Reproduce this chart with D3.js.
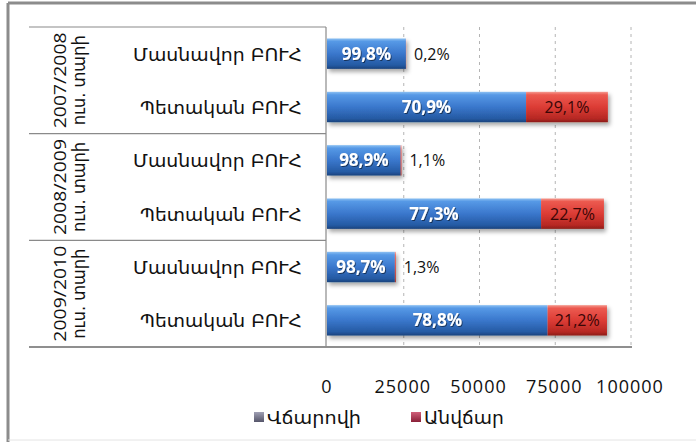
<!DOCTYPE html>
<html>
<head>
<meta charset="utf-8">
<script src="https://cdn.jsdelivr.net/npm/d3@7"></script>
<style>
  html, body { margin: 0; padding: 0; background: #fff; }
  svg { display: block; }
</style>
</head>
<body>
<svg id="chart" width="696" height="442"></svg>
<script>
// ուսումնական տարիներ և ԲՈՒՀ-երի տեսակներ
const years = [['2007/2008', 'ուս. տարի'], ['2008/2009', 'ուս. տարի'], ['2009/2010', 'ուս. տարի']];
const types = ['Մասնավոր ԲՈՒՀ', 'Պետական ԲՈՒՀ'];

// վճարովի / անվճար ուսանողներ (գնահատված պատկերից)
const paid = [26050, 65700, 24300, 70650, 22400, 72800];
const free = [50, 27000, 270, 20750, 300, 19600];
const paidPct = ['99,8%', '70,9%', '98,9%', '77,3%', '98,7%', '78,8%'];
const freePct = ['0,2%', '29,1%', '1,1%', '22,7%', '1,3%', '21,2%'];

const ticks = [0, 25000, 50000, 75000, 100000];
const legendNames = ['Վճարովի', 'Անվճար'];

const svg = d3.select('#chart');
const ARM = '"DejaVu Sans", sans-serif';
const NUM = '"Open Sans", "Liberation Sans", sans-serif';

const rows = d3.range(paid.length);
const plotTop = 27, plotBottom = 347;

const x = d3.scaleLinear().domain([0, 100000]).range([327, 630]);
const y = d3.scaleBand().domain(rows).range([plotTop, plotBottom])
  .paddingInner(0.43).paddingOuter(0.215);

// գրադիենտներ և ստվեր
const defs = svg.append('defs');
function grad(id, stops) {
  const g = defs.append('linearGradient').attr('id', id)
    .attr('x1', 0).attr('y1', 0).attr('x2', 0).attr('y2', 1);
  stops.forEach(s => g.append('stop').attr('offset', s[0]).attr('stop-color', s[1]));
}
grad('gBlue', [[0, '#8cc0f2'], [0.1, '#5699e6'], [0.5, '#3a77cc'], [0.88, '#255aa3'], [1, '#1a427c']]);
grad('gRed', [[0, '#f49a90'], [0.1, '#ec5a50'], [0.5, '#dc3c35'], [0.88, '#b62823'], [1, '#8c1c19']]);
grad('gLegBlue', [[0, '#a0a0b4'], [1, '#55556a']]);
grad('gLegRed', [[0, '#d0607a'], [1, '#8a2038']]);
const f = defs.append('filter').attr('id', 'shadow')
  .attr('x', '-5%').attr('y', '-20%').attr('width', '115%').attr('height', '160%');
f.append('feDropShadow').attr('dx', 2).attr('dy', 3).attr('stdDeviation', 2)
  .attr('flood-color', '#000').attr('flood-opacity', 0.35);
const tf = defs.append('filter').attr('id', 'tshadow');
tf.append('feDropShadow').attr('dx', 1).attr('dy', 1).attr('stdDeviation', 0.6)
  .attr('flood-color', '#000').attr('flood-opacity', 0.5);

// արտաքին շրջանակ
svg.append('line').attr('x1', 8).attr('x2', 696).attr('y1', 3).attr('y2', 3)
  .attr('stroke', '#8c8c8c').attr('stroke-width', 3);
svg.append('line').attr('x1', 8).attr('x2', 8).attr('y1', 3).attr('y2', 442)
  .attr('stroke', '#8c8c8c').attr('stroke-width', 3);
svg.append('line').attr('x1', 8).attr('x2', 696).attr('y1', 440).attr('y2', 440)
  .attr('stroke', '#e4e4e4').attr('stroke-width', 1);

// ցանցի գծեր
svg.append('g').selectAll('line').data(ticks.filter(t => t > 0)).join('line')
  .attr('x1', d => x(d) + 1).attr('x2', d => x(d) + 1)
  .attr('y1', plotTop).attr('y2', plotBottom)
  .attr('stroke', '#b4b4b4').attr('stroke-width', 1).attr('stroke-dasharray', '3,4');

// կատեգորիաների աղյուսակ
const grid = svg.append('g').attr('stroke', '#8a8a8a').attr('stroke-width', 1.2);
[0, 2, 4].forEach(i => {
  const yy = y(i) - y.step() * y.paddingOuter();
  grid.append('line').attr('x1', 29).attr('x2', 326).attr('y1', yy).attr('y2', yy);
});
grid.append('line').attr('x1', 29).attr('x2', 632).attr('y1', plotBottom).attr('y2', plotBottom)
  .attr('stroke-width', 2).attr('stroke', '#8f8f8f');
grid.append('line').attr('x1', 326).attr('x2', 326).attr('y1', plotTop).attr('y2', plotBottom);

// տարիների պիտակներ (ուղղահայաց)
years.forEach((yr, i) => {
  const cy = (y(i * 2) + y(i * 2 + 1) + y.bandwidth()) / 2;
  yr.forEach((line, j) => {
    svg.append('text')
      .attr('transform', `translate(${66 + j * 19},${cy}) rotate(-90)`)
      .attr('text-anchor', 'middle')
      .attr('font-family', j === 0 ? NUM : ARM)
      .attr('font-size', 17)
      .attr('fill', '#111')
      .attr('textLength', j === 0 ? 96 : 90)
      .attr('lengthAdjust', 'spacingAndGlyphs')
      .text(line);
  });
});

// ԲՈՒՀ-երի տեսակներ
svg.append('g').selectAll('text').data(rows).join('text')
  .attr('x', 302).attr('y', d => y(d) + y.bandwidth() / 2 + 7)
  .attr('text-anchor', 'end')
  .attr('font-family', ARM).attr('font-size', 17).attr('fill', '#111')
  .attr('textLength', d => d % 2 === 0 ? 169 : 162)
  .attr('lengthAdjust', 'spacingAndGlyphs')
  .text(d => types[d % 2]);

// սյուներ
const bars = svg.append('g').attr('filter', 'url(#shadow)');
bars.selectAll('rect.paid').data(rows).join('rect').attr('class', 'paid')
  .attr('x', x(0)).attr('y', d => y(d))
  .attr('width', d => x(paid[d]) - x(0)).attr('height', y.bandwidth())
  .attr('fill', 'url(#gBlue)');
bars.selectAll('rect.free').data(rows).join('rect').attr('class', 'free')
  .attr('x', d => x(paid[d])).attr('y', d => y(d))
  .attr('width', d => x(paid[d] + free[d]) - x(paid[d])).attr('height', y.bandwidth())
  .attr('fill', 'url(#gRed)');

// տոկոսներ
svg.append('g').attr('filter', 'url(#tshadow)').selectAll('text').data(rows).join('text')
  .attr('x', d => (x(0) + x(paid[d])) / 2)
  .attr('y', d => y(d) + y.bandwidth() / 2 + 6)
  .attr('text-anchor', 'middle')
  .attr('font-family', NUM).attr('font-weight', 'bold').attr('font-size', 17)
  .attr('fill', '#fff')
  .text(d => paidPct[d]);

svg.append('g').selectAll('text').data(rows).join('text')
  .attr('x', d => free[d] > 5000 ? (x(paid[d]) + x(paid[d] + free[d])) / 2 : x(paid[d] + free[d]) + 8)
  .attr('y', d => y(d) + y.bandwidth() / 2 + 6)
  .attr('text-anchor', d => free[d] > 5000 ? 'middle' : 'start')
  .attr('font-family', NUM).attr('font-size', 16)
  .attr('fill', d => free[d] > 5000 ? '#3a0606' : '#111')
  .text(d => freePct[d]);

// x առանցք
svg.append('g').selectAll('text').data(ticks).join('text')
  .attr('x', d => x(d)).attr('y', 393)
  .attr('text-anchor', 'middle')
  .attr('font-family', NUM).attr('font-size', 18).attr('letter-spacing', 1)
  .attr('fill', '#111')
  .text(d => d);

// լեգենդ
const legend = svg.append('g');
const legX = [254, 411];
const legW = [94, 80];
legendNames.forEach((name, i) => {
  legend.append('rect').attr('x', legX[i]).attr('y', 412).attr('width', 10).attr('height', 10)
    .attr('fill', i === 0 ? 'url(#gLegBlue)' : 'url(#gLegRed)');
  legend.append('text').attr('x', legX[i] + 13).attr('y', 424)
    .attr('font-family', ARM).attr('font-size', 17).attr('fill', '#111')
    .attr('textLength', legW[i]).attr('lengthAdjust', 'spacingAndGlyphs')
    .text(name);
});
</script>
</body>
</html>
